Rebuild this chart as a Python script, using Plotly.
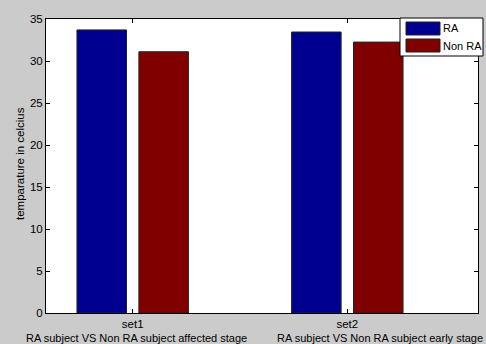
import plotly.graph_objects as go

categories = ["set1", "set2"]
subtitles = ["RA subject VS Non RA subject affected stage",
             "RA subject VS Non RA subject early stage"]
series_names = ["RA", "Non RA"]
ra_values = [33.7, 33.45]
nonra_values = [31.1, 32.25]
colors = ["#000090", "#800000"]
y_ticks = [0, 5, 10, 15, 20, 25, 30, 35]
y_title = "temparature in celcius"

x_pos = [1, 2]

FONT = "Liberation Sans, Arial"

fig = go.Figure()
for name, vals, col in zip(series_names, [ra_values, nonra_values], colors):
    fig.add_trace(go.Bar(x=x_pos, y=vals, name=name, marker_color=col,
                         marker_line=dict(color="#202020", width=1), showlegend=False))

W, H = 486, 344
l, r, t, b = 46, 8, 19, 31
pw, ph = W - l - r, H - t - b

def px(xp):
    return (xp - l) / pw

def py(yp):
    return (H - b - yp) / ph

# custom legend (MATLAB style)
fig.add_shape(type="rect", xref="paper", yref="paper",
              x0=px(400), x1=px(483), y0=py(56), y1=py(18),
              fillcolor="white", line=dict(color="black", width=1))
for i, (name, col) in enumerate(zip(series_names, colors)):
    yc = 28.5 + i * 17
    fig.add_shape(type="rect", xref="paper", yref="paper",
                  x0=px(406), x1=px(440), y0=py(yc + 6.5), y1=py(yc - 6.5),
                  fillcolor=col, line=dict(color="#202020", width=1))
    fig.add_annotation(xref="paper", yref="paper", x=px(442), y=py(yc),
                       text=name, showarrow=False, xanchor="left", yanchor="middle",
                       xshift=-1,
                       font=dict(family=FONT, size=11, color="black"))

# y-axis title
fig.add_annotation(xref="paper", yref="paper", x=px(20), y=py(164),
                   text=y_title, textangle=-90, showarrow=False,
                   xanchor="center", yanchor="middle",
                   font=dict(family=FONT, size=11.5, color="black"))

# subtitles under the category labels
fig.add_annotation(xref="paper", yref="paper", x=px(136), y=py(338),
                   text=subtitles[0], showarrow=False, xanchor="center", yanchor="middle",
                   font=dict(family=FONT, size=11, color="black"))
fig.add_annotation(xref="paper", yref="paper", x=px(485), y=py(338),
                   text=subtitles[1], showarrow=False, xanchor="right", yanchor="middle",
                   font=dict(family=FONT, size=11, color="black"))

fig.update_layout(
    width=W, height=H,
    margin=dict(l=l, r=r, t=t, b=b, autoexpand=False),
    paper_bgcolor="#cbcbcb",
    plot_bgcolor="white",
    barmode="group", bargap=0.423, bargroupgap=0.2,
    font=dict(family=FONT, size=11, color="black"),
    xaxis=dict(range=[0.596, 2.609], tickvals=x_pos, ticktext=categories,
               tickangle=0, automargin=False,
               ticks="inside", ticklen=4, tickcolor="black", showline=True,
               linecolor="black", linewidth=1, mirror="ticks", showgrid=False,
               zeroline=False, tickfont=dict(size=11.5)),
    yaxis=dict(range=[0, 35], tickvals=y_ticks, ticks="inside", ticklen=4,
               automargin=False,
               tickcolor="black", showline=True, linecolor="black", linewidth=1,
               mirror="ticks", showgrid=False, zeroline=False,
               tickfont=dict(size=11.5)),
)

fig.write_html("out.html", config={"displayModeBar": False},
               post_script="document.body.style.margin='0';document.body.style.overflow='hidden';")
